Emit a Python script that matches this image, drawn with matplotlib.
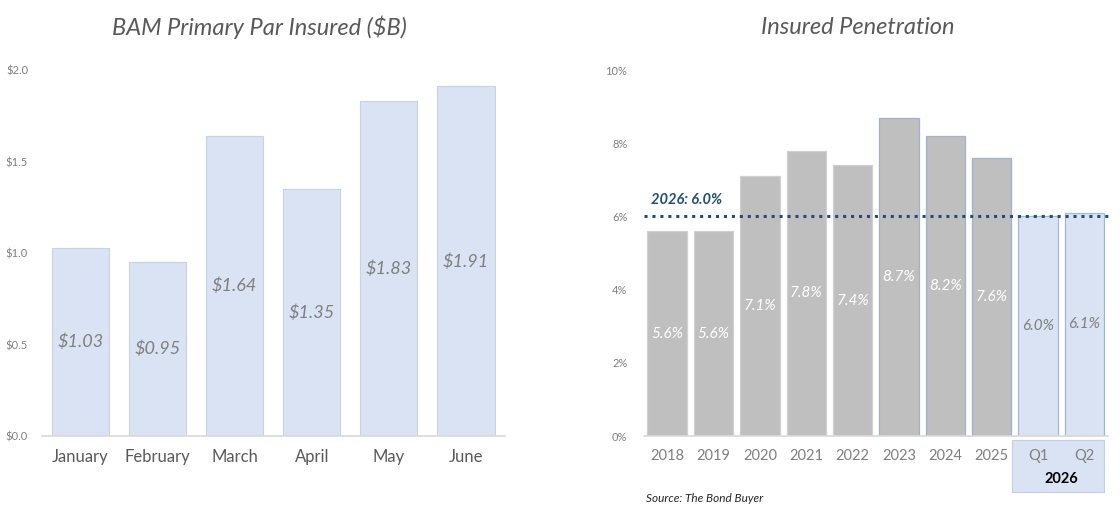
"""
BAM primary par insured and insured penetration, side by side
"""
import matplotlib.pyplot as plt
from matplotlib.patches import Rectangle
import matplotlib.transforms as mtransforms

# left chart data
months = ['January', 'February', 'March', 'April', 'May', 'June']
par_insured = [1.03, 0.95, 1.64, 1.35, 1.83, 1.91]
par_ticks = [0.0, 0.5, 1.0, 1.5, 2.0]

# right chart data
periods = ['2018', '2019', '2020', '2021', '2022', '2023', '2024', '2025', 'Q1', 'Q2']
penetration = [5.6, 5.6, 7.1, 7.8, 7.4, 8.7, 8.2, 7.6, 6.0, 6.1]
pen_ticks = [0, 2, 4, 6, 8, 10]
target_2026 = 6.0

plt.rcParams['font.family'] = ['Lato', 'DejaVu Sans']

BLUE_FILL = '#dae3f3'
GREY_FILL = '#bfbfbf'
TITLE_COL = '#595959'
TICK_COL = '#7f7f7f'
NAVY = '#1f4e79'

fig = plt.figure(figsize=(11.2, 5.13), dpi=100)

# ---- left: primary par insured ----
ax1 = fig.add_axes([0.0375, 0.150, 0.413, 0.7135])
x1 = range(len(months))
ax1.bar(x1, par_insured, width=0.74, color=BLUE_FILL, edgecolor='#c9d2e0', linewidth=0.8)
for i, v in enumerate(par_insured):
    ax1.text(i, v / 2, f'${v:.2f}', ha='center', va='center', fontsize=13,
             style='italic', color=TICK_COL)
ax1.set_xlim(-0.5, len(months) - 0.5)
ax1.set_ylim(0, 2.0)
ax1.set_yticks(par_ticks)
ax1.set_yticklabels([f'${t:.1f}' for t in par_ticks], fontsize=8, color=TICK_COL)
ax1.set_xticks(list(x1))
ax1.set_xticklabels(months, fontsize=12, color=TITLE_COL)
ax1.tick_params(axis='both', length=0)
ax1.tick_params(axis='x', pad=9)
ax1.tick_params(axis='y', pad=10)
for s in ['top', 'right', 'left']:
    ax1.spines[s].set_visible(False)
ax1.spines['bottom'].set_color('#d9d9d9')
ax1.spines['bottom'].set_linewidth(1.2)
fig.text(0.232, 0.947, 'BAM Primary Par Insured ($B)', ha='center', va='center',
         fontsize=17, style='italic', color=TITLE_COL)

# ---- right: insured penetration ----
ax2 = fig.add_axes([0.575, 0.150, 0.414, 0.7135])
x2 = range(len(periods))
fills = [GREY_FILL] * 8 + [BLUE_FILL] * 2
edges = ['#d0d0d0'] * 5 + ['#9fb3cc'] * 3 + ['#a6b8d0'] * 2
ax2.bar(x2, penetration, width=0.85, color=fills, edgecolor=edges, linewidth=0.9)
for i, v in enumerate(penetration):
    col = 'white' if i < 8 else TICK_COL
    ax2.text(i, v / 2, f'{v:.1f}%', ha='center', va='center', fontsize=11,
             style='italic', color=col)
ax2.axhline(target_2026, xmin=0, xmax=1.01, color=NAVY, linestyle=(0, (1, 1.6)),
            linewidth=2.2, clip_on=False, zorder=4)
ax2.text(-0.35, target_2026 + 0.45, f'2026: {target_2026:.1f}%', fontsize=10.5,
         fontweight='bold', style='italic', color=NAVY, va='center')
ax2.set_xlim(-0.5, len(periods) - 0.5)
ax2.set_ylim(0, 10)
ax2.set_yticks(pen_ticks)
ax2.set_yticklabels([f'{t}%' for t in pen_ticks], fontsize=8, color=TICK_COL)
ax2.set_xticks(list(x2))
ax2.set_xticklabels(periods, fontsize=10.5, color=TICK_COL)
ax2.tick_params(axis='both', length=0)
ax2.tick_params(axis='x', pad=9)
ax2.tick_params(axis='y', pad=12)
for s in ['top', 'right', 'left']:
    ax2.spines[s].set_visible(False)
ax2.spines['bottom'].set_color('#d9d9d9')
ax2.spines['bottom'].set_linewidth(1.2)

# 2026 group box under Q1/Q2
trans = mtransforms.blended_transform_factory(ax2.transData, ax2.transAxes)
box = Rectangle((7.43, -0.153), 1.98, 0.142, transform=trans, facecolor=BLUE_FILL,
                edgecolor='#c4d0e2', linewidth=0.8, clip_on=False, zorder=0)
ax2.add_patch(box)
ax2.text(8.5, -0.117, '2026', transform=trans, ha='center', va='center',
         fontsize=10.5, fontweight='bold', color='black')
ax2.text(-0.45, -0.170, 'Source: The Bond Buyer', transform=trans, ha='left',
         va='center', fontsize=8.5, style='italic', color='#262626')
fig.text(0.766, 0.947, 'Insured Penetration', ha='center', va='center',
         fontsize=17, style='italic', color=TITLE_COL)

plt.savefig('out.png', dpi=100)
plt.close()
